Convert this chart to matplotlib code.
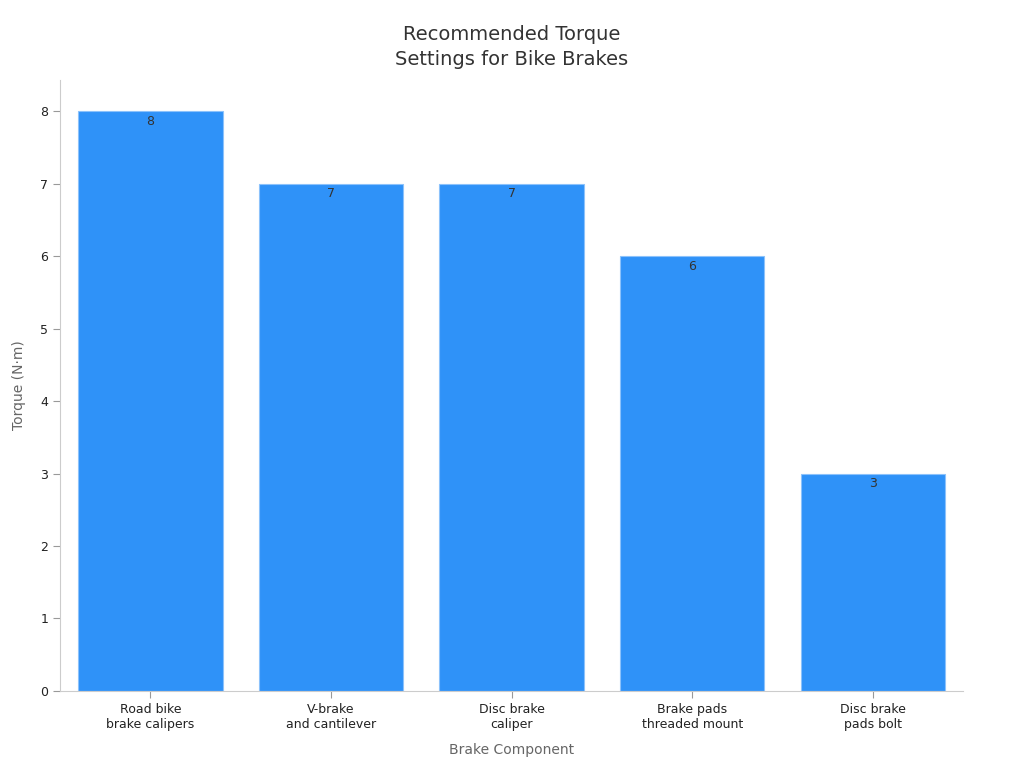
import matplotlib.pyplot as plt

components = ["Road bike\nbrake calipers", "V-brake\nand cantilever", "Disc brake\ncaliper",
              "Brake pads\nthreaded mount", "Disc brake\npads bolt"]
torque = [8, 7, 7, 6, 3]

fig = plt.figure(figsize=(10.24, 7.68), dpi=100)
ax = fig.add_axes([0.0586, 0.1003, 0.882, 0.7956])

bars = ax.bar(range(len(components)), torque, width=0.8, color="#2f92f8",
              edgecolor="#8cc2fb", linewidth=0.8)
for i, v in enumerate(torque):
    ax.text(i, v - 0.05, str(v), ha="center", va="top", fontsize=9, color="#333333")

ax.set_xlim(-0.5, 4.5)
ax.set_ylim(0, 8.43)
ax.set_xticks(range(len(components)))
ax.set_xticklabels(components, fontsize=9, color="#222222")
ax.tick_params(axis="y", labelsize=9, labelcolor="#222222")
ax.tick_params(colors="#999999", length=5)
for t in ax.get_xticklabels() + ax.get_yticklabels():
    t.set_color("#222222")

for s in ["top", "right"]:
    ax.spines[s].set_visible(False)
for s in ["left", "bottom"]:
    ax.spines[s].set_color("#cccccc")

ax.set_xlabel("Brake Component", fontsize=10, color="#666666", labelpad=9)
ax.set_ylabel("Torque (N·m)", fontsize=10, color="#666666", labelpad=10)
fig.suptitle("Recommended Torque\nSettings for Bike Brakes", fontsize=14, color="#333333",
             y=0.968, linespacing=1.45)

fig.savefig("out.png")
